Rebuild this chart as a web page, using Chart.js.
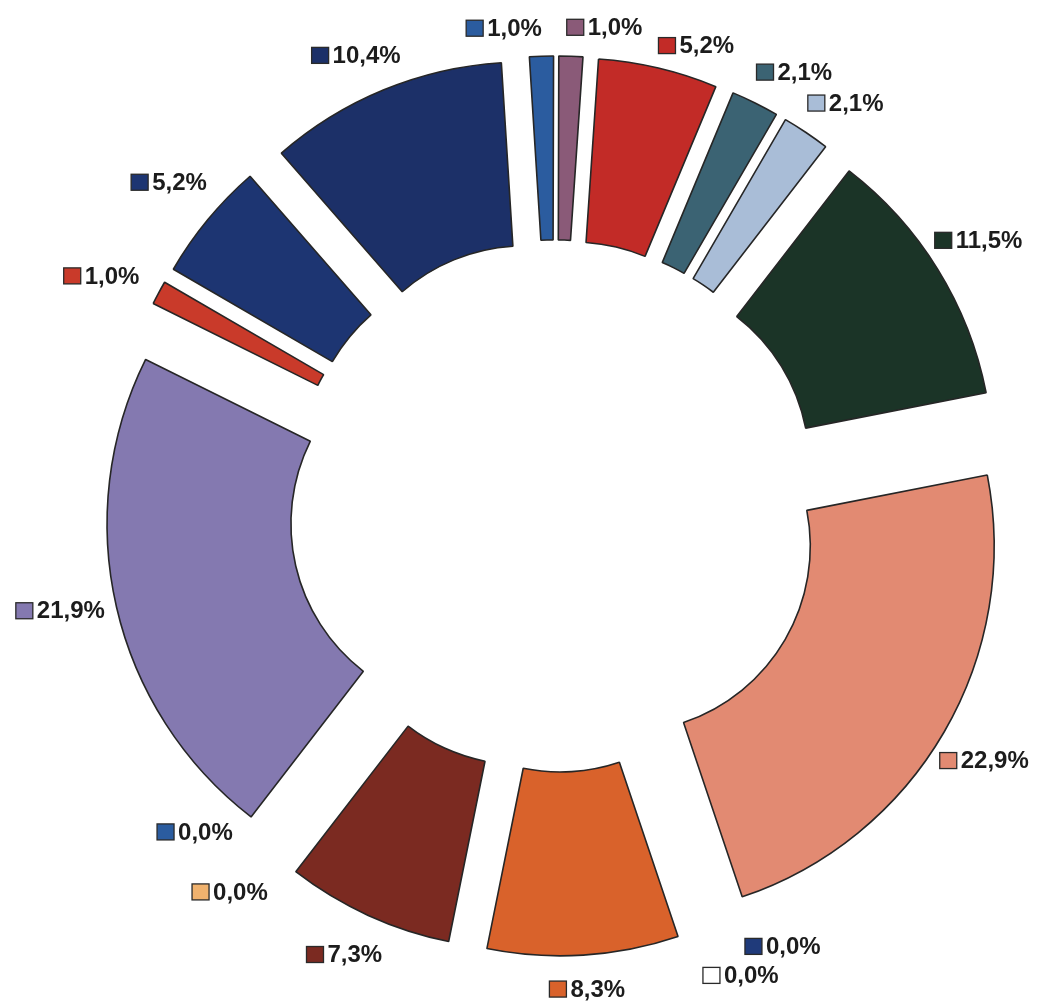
<!DOCTYPE html>
<html>
<head>
<meta charset="utf-8">
<script src="https://cdn.jsdelivr.net/npm/chart.js@4.4.1/dist/chart.umd.min.js"></script>
<style>
  html, body { margin: 0; padding: 0; background: #fff; }
  #wrap { width: 1042px; height: 1001px; position: relative; }
</style>
</head>
<body>
<div id="wrap"><canvas id="chart" width="1042" height="1001"></canvas></div>
<script>
// counts per category (out of 96), clockwise from the top
const categories = ["A", "B", "C", "D", "E", "F", "G", "H", "I", "J", "K", "L", "M", "N", "O", "P", "Q"];
const counts = [1, 1, 5, 2, 2, 11, 22, 0, 0, 8, 7, 0, 0, 21, 1, 5, 10];
const percentLabels = ["1,0%", "1,0%", "5,2%", "2,1%", "2,1%", "11,5%", "22,9%", "0,0%", "0,0%",
  "8,3%", "7,3%", "0,0%", "0,0%", "21,9%", "1,0%", "5,2%", "10,4%"];

const sliceColors = ["#2b5c9f", "#8a5a78", "#c22b27", "#3b6373", "#a9bdd7", "#1b3427", "#e28a72",
  "#1f3a7a", "#ffffff", "#d9622b", "#7b2a21", "#f0b26e", "#2b5c9f", "#8479b0", "#c93a2a", "#1d3572", "#1c3068"];

// label layout tweaks, pixels [dx, dy] from the automatic spot
const labelNudge = [[-36, -7], [32, -8], [27, -2], [18, -12], [13, -12], [-5, -18], [-7, 18],
  [69, -6], [27, 23], [1, 13], [-4, 20], [-21, 13], [-56, -47], [-3, -1], [-15, -7], [-2, -24], [-7, -15]];

const explode = 80;

const explodePlugin = {
  id: "explode",
  beforeDatasetDraw(chart, args) {
    const ctx = chart.ctx;
    args.meta.data.forEach((arc, i) => {
      if (!counts[i]) return;
      const mid = (arc.startAngle + arc.endAngle) / 2;
      ctx.save();
      ctx.translate(Math.cos(mid) * explode, Math.sin(mid) * explode);
      arc.draw(ctx);
      ctx.restore();
    });
    return false;
  }
};

const labelPlugin = {
  id: "pctLabels",
  afterDatasetsDraw(chart) {
    const ctx = chart.ctx;
    const arcs = chart.getDatasetMeta(0).data;
    ctx.save();
    ctx.font = "bold 24px 'Liberation Sans', Arial, sans-serif";
    ctx.textBaseline = "middle";
    ctx.textAlign = "left";
    arcs.forEach((arc, i) => {
      const mid = (arc.startAngle + arc.endAngle) / 2;
      const dx = Math.cos(mid), dy = Math.sin(mid);
      const rad = arc.outerRadius + explode + 10;
      const text = percentLabels[i];
      const sq = 17, gap = 4;
      const w = sq + gap + ctx.measureText(text).width;
      const h = 22;
      const cx = arc.x + dx * rad + dx * w / 2 + labelNudge[i][0];
      const cy = arc.y + dy * rad + dy * h / 2 + labelNudge[i][1];
      const left = cx - w / 2;
      ctx.fillStyle = sliceColors[i];
      ctx.fillRect(left, cy - 8, sq, 16);
      ctx.strokeStyle = "#2a2a2a";
      ctx.lineWidth = 1.3;
      ctx.strokeRect(left, cy - 8, sq, 16);
      ctx.fillStyle = "#1c1c1c";
      ctx.fillText(text, left + sq + gap, cy + 1);
    });
    ctx.restore();
  }
};

new Chart(document.getElementById("chart"), {
  type: "doughnut",
  data: {
    labels: categories,
    datasets: [{
      data: counts,
      backgroundColor: sliceColors,
      borderColor: "#262626",
      borderWidth: 1.6
    }]
  },
  options: {
    responsive: false,
    animation: false,
    events: [],
    rotation: -3.6,
    radius: 370,
    cutout: "50.3%",
    layout: { padding: { left: 78, right: 10, top: 16, bottom: 5 } },
    plugins: {
      legend: { display: false },
      tooltip: { enabled: false }
    }
  },
  plugins: [explodePlugin, labelPlugin]
});
</script>
</body>
</html>
